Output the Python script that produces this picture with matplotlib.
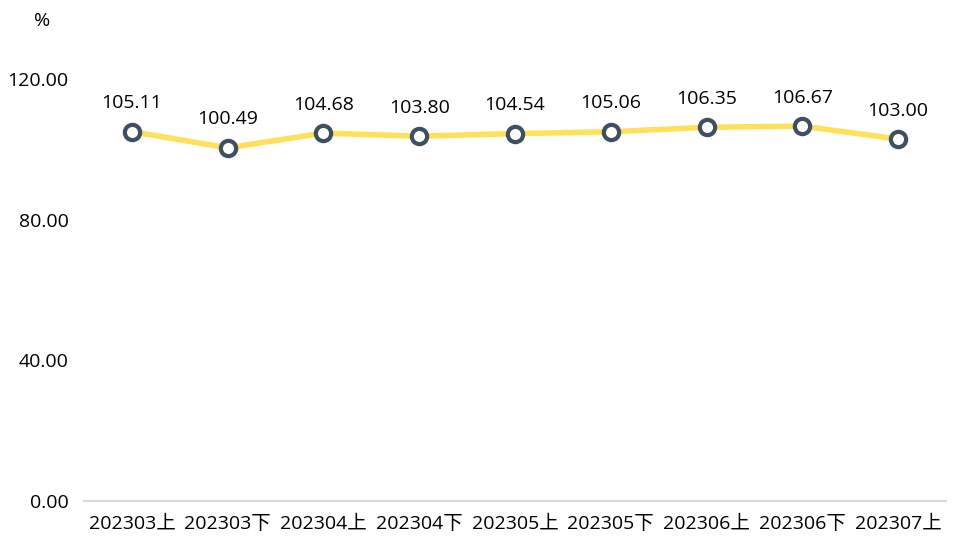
import matplotlib
matplotlib.use("Agg")
import matplotlib.pyplot as plt

plt.rcParams['font.family'] = ['Open Sans', 'Noto Sans CJK SC', 'DejaVu Sans']

categories = ["202303上", "202303下", "202304上", "202304下", "202305上",
              "202305下", "202306上", "202306下", "202307上"]
values = [105.11, 100.49, 104.68, 103.80, 104.54, 105.06, 106.35, 106.67, 103.00]
yticks = [0, 40, 80, 120]

W, H = 969, 558
FS = 14
fig = plt.figure(figsize=(W / 100, H / 100), dpi=100)
ax = fig.add_axes([84 / W, (H - 501) / H, (946 - 84) / W, (501 - 9) / H])

x = list(range(len(categories)))
ax.plot(x, values, color="#FFE05A", lw=4, zorder=2, solid_capstyle="round")
ax.plot(x, values, ls="none", marker="o", ms=11, mfc="white", mec="#3D4F61",
        mew=3, zorder=3)
for xi, v in zip(x, values):
    ax.annotate(f"{v:.2f}", (xi, v), xytext=(0, 14), textcoords="offset points",
                ha="center", va="bottom", fontsize=FS, color="black")

ax.set_xlim(-0.5, len(categories) - 0.5)
ax.set_ylim(0, 140)
ax.set_yticks(yticks)
ax.set_yticklabels([f"{t:.2f}" for t in yticks], fontsize=FS)
ax.set_xticks(x)
ax.set_xticklabels(categories, fontsize=FS)
ax.tick_params(axis="both", length=0, colors="black")
ax.tick_params(axis="y", pad=11)
ax.tick_params(axis="x", pad=10)
for s in ["top", "right", "left"]:
    ax.spines[s].set_visible(False)
ax.spines["bottom"].set_color("#D9D9D9")
ax.spines["bottom"].set_linewidth(1.5)
fig.text(42 / W, 1 - 21 / H, "%", ha="center", va="center", fontsize=FS)

fig.savefig("out.png", dpi=100)
